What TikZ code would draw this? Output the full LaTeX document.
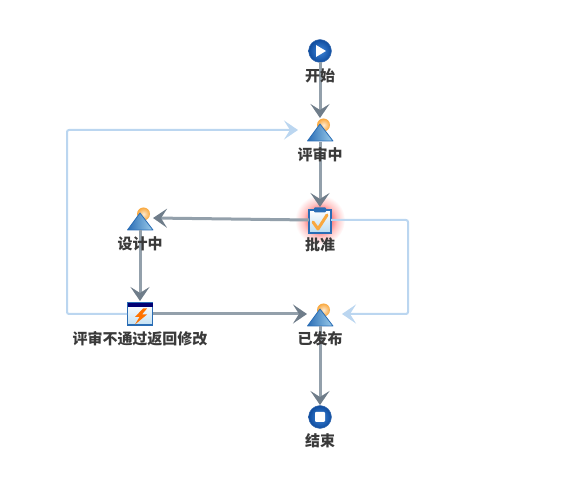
\documentclass[tikz,border=0pt]{standalone}
\usepackage{fontspec}
\newfontfamily\cjk{Noto Sans CJK SC}
\usetikzlibrary{arrows.meta,shadings,positioning}
\definecolor{flowgray}{HTML}{93A0AB}
\definecolor{tipgray}{HTML}{6F7D8A}
\definecolor{backblue}{HTML}{BBD6F0}
\definecolor{iconblue}{HTML}{2A6DB5}
\definecolor{iconlight}{HTML}{9CCDEB}
\definecolor{labelgray}{HTML}{3A3A3A}
\definecolor{ballorange}{HTML}{F9A83E}
\definecolor{balldark}{HTML}{0F4C9E}
\definecolor{ballmid}{HTML}{3E86DA}
\pgfdeclareradialshading{glowred}{\pgfpoint{0bp}{0bp}}{%
  color(0bp)=(red!65!white);
  color(10bp)=(red!55!white);
  color(17bp)=(red!22!white);
  color(25bp)=(white);
  color(50bp)=(white)}
\tikzset{
  iconbox/.style={inner sep=0pt,outer sep=0pt},
  flowtip/.style={-{Stealth[length=14pt,width=19pt,inset=6pt,color=#1]}},
  flow/.style={draw=flowgray,line width=3pt,flowtip=tipgray},
  back/.style={draw=backblue,line width=2pt,rounded corners=2pt,flowtip=backblue},
  lbl/.style={font=\cjk\bfseries\fontsize{15pt}{17pt}\selectfont,text=labelgray,inner sep=0pt},
}
\newcommand{\triicon}[2]{%
  \shade[inner color=ballorange!25,outer color=ballorange] (#1+3.5,#2-16) circle (6.5);
  \shade[left color=iconblue,right color=iconlight,draw=iconblue,line width=.8pt,line join=round]
    (#1-12.5,#2) -- (#1,#2-17) -- (#1+13,#2) -- cycle;
}
\newcommand{\ballicon}[3]{%
  \shade[inner color=ballmid,outer color=balldark,draw=balldark!80] (#1,#2) circle (11.5);
  #3
}
\begin{document}
\begin{tikzpicture}[x=1pt,y=-1pt]
\useasboundingbox (0,0) rectangle (566,486);
% glow
\shade[shading=glowred] (320,220) circle (25);
% named nodes
\node[iconbox,minimum width=22pt,minimum height=22pt] (start) at (320,51) {};
\node[iconbox,minimum width=42pt,minimum height=24pt] (review) at (319,130) {};
\node[iconbox,minimum width=22pt,minimum height=26pt] (approve) at (320,220) {};
\node[iconbox,minimum width=26pt,minimum height=24pt] (design) at (140,218) {};
\node[iconbox,minimum width=26pt,minimum height=26pt] (action) at (140,314) {};
\node[iconbox,minimum width=26pt,minimum height=24pt] (publish) at (320,314) {};
\node[iconbox,minimum width=24pt,minimum height=24pt] (finish) at (320,417) {};
\coordinate (c1) at (67,314);
\coordinate (c2) at (67,130);
\coordinate (c3) at (408,220);
\coordinate (c4) at (408,314);
% icons
\ballicon{320}{51}{\fill[white] (316,45) -- (326,51) -- (316,57) -- cycle;}
\ballicon{320}{417}{\fill[white,rounded corners=1pt] (315,412) rectangle (325,422);}
\triicon{320}{141}
\triicon{140}{230}
\triicon{320}{326}
% approve icon
\shade[top color=white,bottom color=iconlight!70,draw=iconblue,line width=1.2pt] (309,210) rectangle (331,233);
\fill[iconblue,rounded corners=1pt] (314,207.5) rectangle (326,212.5);
\draw[ballorange,line width=3pt,line cap=round,line join=round] (313,222) -- (318,229) -- (327,215);
% action icon
\shade[top color=white,bottom color=iconlight!60,draw=iconblue,line width=1.2pt] (127.5,303) rectangle (152.5,325);
\fill[blue!45!black] (127.5,303) rectangle (152.5,307.5);
\fill[orange!90!red] (143,308.5) -- (135,317) -- (139.5,317) -- (135,324.5) -- (147,314.5) -- (142,314.5) -- (147,308.5) -- cycle;
% connectors
\draw[back] (action.west) -- (c1) -- (c2) -- (review.west);
\draw[back,shorten >=9pt] (approve.east) -- (c3) -- (c4) -- (publish.east);
\draw[flow] (start.south) -- (review.north -| start.south);
\draw[flow] (review.south -| approve.north) -- (approve.north);
\draw[flow] (approve.west) -- (design.east);
\draw[flow] (design.south) -- (action.north);
\draw[flow] (action.east) -- (publish.west);
\draw[flow] (publish.south) -- (finish.north);
% labels
\node[lbl] (l1) at (320,75.5) {开始};
\node[lbl] (l2) at (320,155) {评审中};
\node[lbl] (l3) at (320,245) {批准};
\node[lbl] (l4) at (140,244) {设计中};
\node[lbl] (l5) at (140,339) {评审不通过返回修改};
\node[lbl] (l6) at (320,339) {已发布};
\node[lbl] (l7) at (320,441) {结束};
\end{tikzpicture}
\end{document}
